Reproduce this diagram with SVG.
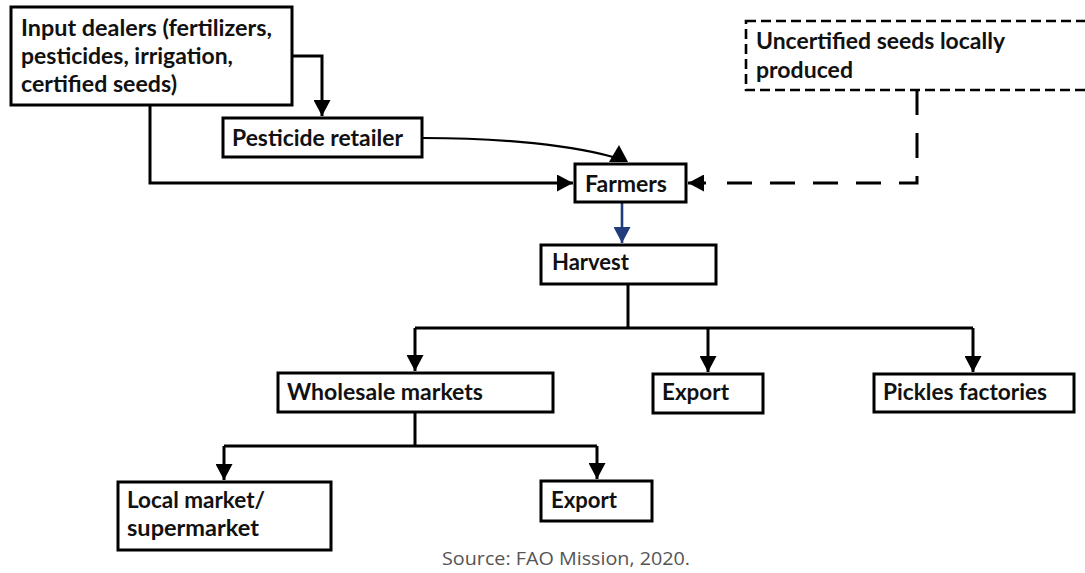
<svg xmlns="http://www.w3.org/2000/svg" width="1085" height="573" viewBox="0 0 1085 573">
  <style>
    .box { fill: #ffffff; stroke: #000000; stroke-width: 3; }
    .dbox { fill: #ffffff; stroke: #000000; stroke-width: 2.6; stroke-dasharray: 10 5; }
    .lbl { font-family: Lato, "Open Sans", "Liberation Sans", sans-serif; font-weight: 700; font-size: 22px; fill: #111111; }
    .src { font-family: "Open Sans", "Liberation Sans", sans-serif; font-size: 18.5px; fill: #555555; }
    .ln { fill: none; stroke: #000000; stroke-width: 3; }
    .thin { fill: none; stroke: #000000; stroke-width: 2.2; }
    .dash { fill: none; stroke: #000000; stroke-width: 3; stroke-dasharray: 25 18; }
    .blue { fill: none; stroke: #203c7a; stroke-width: 2.6; }
  </style>
  <defs>
    <marker id="ah" viewBox="0 0 16 17" refX="16" refY="8.5" markerWidth="16" markerHeight="17" markerUnits="userSpaceOnUse" orient="auto">
      <path d="M0,0 L16,8.5 L0,17 z" fill="#000000"/>
    </marker>
    <marker id="ahb" viewBox="0 0 16 17" refX="16" refY="8.5" markerWidth="16" markerHeight="17" markerUnits="userSpaceOnUse" orient="auto">
      <path d="M0,0 L16,8.5 L0,17 z" fill="#203c7a"/>
    </marker>
  </defs>
  <rect width="1085" height="573" fill="#ffffff"/>

  <g id="connectors">
    <path class="ln" d="M292 56 H322 V116" marker-end="url(#ah)"/>
    <path class="ln" d="M150 105 V183 H573" marker-end="url(#ah)"/>
    <path class="thin" d="M423 138 C480 138, 560 142, 613 157"/>
    <polygon points="609,162 628,162 619,145" fill="#000000"/>
    <path class="dash" d="M917 90 V183 H709"/>
    <path class="ln" d="M706 183 H688" marker-end="url(#ah)"/>
    <path class="blue" d="M622 202 V243" marker-end="url(#ahb)"/>
    <path class="ln" d="M628 284 V328"/>
    <path class="ln" d="M415 328 H973"/>
    <path class="ln" d="M415 328 V371" marker-end="url(#ah)"/>
    <path class="ln" d="M708 328 V372" marker-end="url(#ah)"/>
    <path class="ln" d="M973 328 V372" marker-end="url(#ah)"/>
    <path class="ln" d="M415 412 V446"/>
    <path class="ln" d="M224 446 H597"/>
    <path class="ln" d="M224 446 V480" marker-end="url(#ah)"/>
    <path class="ln" d="M597 446 V479" marker-end="url(#ah)"/>
  </g>

  <g id="input-dealers">
    <rect class="box" x="11" y="7" width="281" height="98"/>
    <text class="lbl" x="21" y="36" textLength="251" lengthAdjust="spacingAndGlyphs">Input dealers (fertilizers,</text>
    <text class="lbl" x="21" y="64" textLength="212" lengthAdjust="spacingAndGlyphs">pesticides, irrigation,</text>
    <text class="lbl" x="21" y="92" textLength="156" lengthAdjust="spacingAndGlyphs">certified seeds)</text>
  </g>

  <g id="pesticide-retailer">
    <rect class="box" x="223" y="118" width="199" height="39"/>
    <text class="lbl" x="232" y="146" textLength="171" lengthAdjust="spacingAndGlyphs">Pesticide retailer</text>
  </g>

  <g id="uncertified-seeds">
    <rect class="dbox" x="746" y="21" width="360" height="69"/>
    <text class="lbl" x="756" y="49" textLength="249" lengthAdjust="spacingAndGlyphs">Uncertified seeds locally</text>
    <text class="lbl" x="756" y="78" textLength="97" lengthAdjust="spacingAndGlyphs">produced</text>
  </g>

  <g id="farmers">
    <rect class="box" x="575" y="164" width="111" height="38"/>
    <text class="lbl" x="585" y="192" textLength="82" lengthAdjust="spacingAndGlyphs">Farmers</text>
  </g>

  <g id="harvest">
    <rect class="box" x="541" y="245" width="175" height="39"/>
    <text class="lbl" x="552" y="270" textLength="77" lengthAdjust="spacingAndGlyphs">Harvest</text>
  </g>

  <g id="wholesale-markets">
    <rect class="box" x="278" y="373" width="275" height="39"/>
    <text class="lbl" x="287" y="400" textLength="196" lengthAdjust="spacingAndGlyphs">Wholesale markets</text>
  </g>

  <g id="export-1">
    <rect class="box" x="653" y="374" width="110" height="39"/>
    <text class="lbl" x="662" y="400" textLength="67" lengthAdjust="spacingAndGlyphs">Export</text>
  </g>

  <g id="pickles-factories">
    <rect class="box" x="874" y="374" width="200" height="38"/>
    <text class="lbl" x="883" y="400" textLength="164" lengthAdjust="spacingAndGlyphs">Pickles factories</text>
  </g>

  <g id="local-market">
    <rect class="box" x="118" y="482" width="213" height="68"/>
    <text class="lbl" x="127" y="508" textLength="138" lengthAdjust="spacingAndGlyphs">Local market/</text>
    <text class="lbl" x="127" y="536" textLength="132" lengthAdjust="spacingAndGlyphs">supermarket</text>
  </g>

  <g id="export-2">
    <rect class="box" x="541" y="481" width="111" height="40"/>
    <text class="lbl" x="551" y="508" textLength="66" lengthAdjust="spacingAndGlyphs">Export</text>
  </g>

  <text class="src" x="442" y="565" textLength="248" lengthAdjust="spacingAndGlyphs">Source: FAO Mission, 2020.</text>
</svg>
